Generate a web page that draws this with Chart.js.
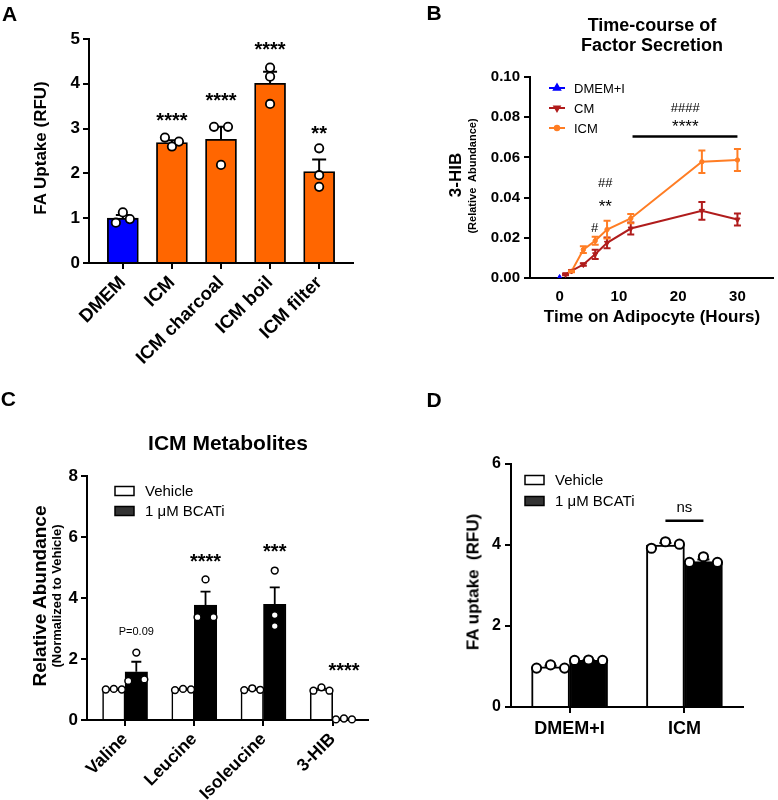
<!DOCTYPE html>
<html>
<head>
<meta charset="utf-8">
<title>FA uptake and 3-HIB figure</title>
<script src="https://cdn.jsdelivr.net/npm/chart.js@4.4.1/dist/chart.umd.min.js"></script>
<style>
  body { margin: 0; background: #fff; }
  #fig { position: relative; width: 778px; height: 800px; font-family: "Liberation Sans", Arial, Helvetica, sans-serif; color: #000; overflow: hidden; }
  #fig canvas { position: absolute; }
  .lbl { position: absolute; white-space: pre; line-height: 1; font-weight: bold; transform: translate(-50%, -50%); }
  .rot { transform: translate(-50%, -50%) rotate(-90deg); }
</style>
</head>
<body>
<div id="fig">
  <canvas id="chartA" width="390" height="380" style="left:0;top:0"></canvas>
  <canvas id="chartB" width="388" height="380" style="left:390px;top:0"></canvas>
  <canvas id="chartC" width="390" height="420" style="left:0;top:380px"></canvas>
  <canvas id="chartD" width="388" height="420" style="left:390px;top:380px"></canvas>

  <div class="lbl" style="left:9.5px;top:12.5px;font-size:21px">A</div>
  <div class="lbl rot" style="left:40px;top:148px;font-size:17px">FA Uptake (RFU)</div>

  <div class="lbl" style="left:434px;top:11.7px;font-size:21px">B</div>
  <div class="lbl" style="left:652px;top:25px;font-size:18px">Time-course of</div>
  <div class="lbl" style="left:652px;top:45px;font-size:18px">Factor Secretion</div>
  <div class="lbl rot" style="left:455px;top:175px;font-size:17px">3-HIB</div>
  <div class="lbl rot" style="left:472px;top:176px;font-size:11px">(Relative  Abundance)</div>
  <div class="lbl" style="left:652px;top:316px;font-size:17px">Time on Adipocyte (Hours)</div>

  <div class="lbl" style="left:8.3px;top:398px;font-size:21px">C</div>
  <div class="lbl" style="left:228px;top:441.7px;font-size:21px">ICM Metabolites</div>
  <div class="lbl rot" style="left:39px;top:596px;font-size:19px">Relative Abundance</div>
  <div class="lbl rot" style="left:56px;top:596px;font-size:13px">(Normalized to Vehicle)</div>

  <div class="lbl" style="left:434px;top:399px;font-size:21px">D</div>
  <div class="lbl rot" style="left:472.5px;top:582px;font-size:17px">FA uptake  (RFU)</div>
</div>

<script>
const FONT = '"Liberation Sans", Arial, Helvetica, sans-serif';

// ---- panel A: FA uptake
const aCats = ['DMEM', 'ICM', 'ICM charcoal', 'ICM boil', 'ICM filter'];
const aMeans = [1.00, 2.69, 2.76, 4.01, 2.04];
const aSem = [0.07, 0.05, 0.28, 0.26, 0.27];
const aReps = [[0.90, 1.13, 0.98], [2.80, 2.60, 2.71], [3.04, 2.19, 3.04], [4.36, 4.16, 3.55], [2.56, 1.96, 1.70]];
const aStars = ['', '****', '****', '****', '**'];
const aStarY = [null, 3.30, 3.75, 4.89, 3.01];
const aYTicks = [0, 1, 2, 3, 4, 5];

// ---- panel B: time course of 3-HIB
const bXTicks = [0, 10, 20, 30];
const bYTicks = [0, 0.02, 0.04, 0.06, 0.08, 0.10];
const bDmemX = [0];
const bDmemY = [0];
const bCmX = [1, 2, 4, 6, 8, 12, 24, 30];
const bCmY = [0.0018, 0.0035, 0.0067, 0.0118, 0.0175, 0.0246, 0.0334, 0.0291];
const bCmSem = [0.0004, 0.0005, 0.0006, 0.0023, 0.0027, 0.0030, 0.0044, 0.0030];
const bIcmX = [2, 4, 6, 8, 12, 24, 30];
const bIcmY = [0.0033, 0.0141, 0.0185, 0.0241, 0.0296, 0.0578, 0.0587];
const bIcmSem = [0.0004, 0.0017, 0.0020, 0.0044, 0.0023, 0.0056, 0.0055];
// significance marks (x, y in data units)
const bNotes = [['#', 5.9, 0.0254], ['##', 7.7, 0.0474], ['**', 7.7, 0.0379], ['####', 21.2, 0.0850], ['****', 21.2, 0.0773]];
const bSigLine = { from: 12.3, to: 30, y: 0.0704 };

// ---- panel C: ICM metabolites
const cCats = ['Valine', 'Leucine', 'Isoleucine', '3-HIB'];
const cVehicle = [1.00, 1.00, 1.00, 1.00];
const cVehicleSem = [0.01, 0.01, 0.02, 0.03];
const cVehicleReps = [[1.00, 1.02, 1.00], [0.98, 1.02, 1.00], [0.98, 1.04, 0.99], [0.96, 1.07, 0.96]];
const cBcat = [1.58, 3.77, 3.79, 0.03];
const cBcatSem = [0.33, 0.44, 0.56, 0.01];
const cBcatReps = [[1.28, 2.21, 1.33], [3.37, 4.61, 3.37], [4.90, 3.44, 3.08], [0.02, 0.05, 0.02]];
const cNotes = ['P=0.09', '****', '***', '****'];
const cNoteY = [2.92, 5.35, 5.70, 1.80];
const cYTicks = [0, 2, 4, 6, 8];

// ---- panel D: FA uptake with BCAT inhibitor
const dCats = ['DMEM+I', 'ICM'];
const dVehicle = [0.99, 4.00];
const dVehicleSem = [0.03, 0.05];
const dVehicleReps = [[0.96, 1.04, 0.96], [3.92, 4.08, 4.02]];
const dBcat = [1.15, 3.59];
const dBcatSem = [0.01, 0.05];
const dBcatReps = [[1.15, 1.16, 1.15], [3.57, 3.71, 3.57]];
const dNsY = 4.6;
const dYTicks = [0, 2, 4, 6];

const BLUE = '#0000ff', ORANGE = '#ff6600';
const CM_RED = '#b01c1c', ICM_ORANGE = '#ff7d24';

Chart.defaults.font.family = FONT;
Chart.defaults.color = '#000';
Chart.defaults.animation = false;
Chart.defaults.events = [];
Chart.defaults.plugins.legend.display = false;
Chart.defaults.plugins.tooltip.enabled = false;

function yAxis(o) {
  return {
    type: 'linear', min: o.min, max: o.max,
    afterBuildTicks: s => { s.ticks = o.ticks.map(v => ({ value: v })); },
    ticks: { font: { size: o.size, weight: 'bold' }, color: '#000', padding: o.pad || 3, callback: o.fmt || (v => v) },
    grid: { drawOnChartArea: false, drawTicks: true, tickLength: 6, color: '#000', lineWidth: 2 },
    border: { color: '#000', width: 2 },
    afterFit: s => { s.width = o.width; }
  };
}

function xAxis(o) {
  return {
    type: 'linear', min: o.min, max: o.max, offset: false,
    afterBuildTicks: s => { s.ticks = o.ticks.map(v => ({ value: v })); },
    ticks: {
      font: { size: o.size, weight: 'bold' }, color: '#000', padding: o.pad,
      minRotation: o.rot || 0, maxRotation: o.rot || 0, autoSkip: false,
      callback: o.labels ? (v => o.labels[v]) : (v => v)
    },
    grid: { offset: false, drawOnChartArea: false, drawTicks: o.drawTicks !== false, tickLength: 6, color: '#000', lineWidth: 2 },
    border: { color: '#000', width: 2 },
    afterFit: s => { s.height = o.height; }
  };
}

// spread replicate dots sideways when they would overlap (GraphPad-like)
function clusterOffsets(pys, thr, step) {
  const n = pys.length, grp = pys.map((_, i) => i);
  const find = i => grp[i] === i ? i : (grp[i] = find(grp[i]));
  for (let i = 0; i < n; i++)
    for (let j = i + 1; j < n; j++)
      if (Math.abs(pys[i] - pys[j]) < thr) grp[find(j)] = find(i);
  const members = {};
  pys.forEach((_, i) => { const g = find(i); (members[g] = members[g] || []).push(i); });
  const off = new Array(n).fill(0);
  Object.values(members).forEach(m => {
    if (m.length === 2) { off[m[0]] = -step; off[m[1]] = step; }
    else m.forEach((idx, k) => { off[idx] = (k - (m.length - 1) / 2) * step; });
  });
  return off;
}

function drawErrors(chart, dsIndex, means, sems, cap, lw) {
  const ctx = chart.ctx, y = chart.scales.y;
  ctx.save();
  ctx.strokeStyle = '#000';
  ctx.lineWidth = lw;
  chart.getDatasetMeta(dsIndex).data.forEach((bar, i) => {
    const y0 = y.getPixelForValue(means[i]);
    const y1 = y.getPixelForValue(means[i] + sems[i]);
    ctx.beginPath();
    ctx.moveTo(bar.x, y0); ctx.lineTo(bar.x, y1);
    ctx.moveTo(bar.x - cap, y1); ctx.lineTo(bar.x + cap, y1);
    ctx.stroke();
  });
  ctx.restore();
}

function drawDots(chart, dsIndex, reps, o) {
  const ctx = chart.ctx, y = chart.scales.y;
  ctx.save();
  ctx.fillStyle = '#fff';
  ctx.strokeStyle = '#000';
  ctx.lineWidth = o.lw;
  chart.getDatasetMeta(dsIndex).data.forEach((bar, i) => {
    const pys = reps[i].map(v => y.getPixelForValue(v));
    const off = clusterOffsets(pys, o.thr, o.step);
    pys.forEach((py, k) => {
      ctx.beginPath();
      ctx.arc(bar.x + off[k], py, o.r, 0, Math.PI * 2);
      ctx.fill();
      ctx.stroke();
    });
  });
  ctx.restore();
}

function note(ctx, text, x, y, size, weight, kind) {
  ctx.save();
  ctx.font = `${weight} ${size}px ${FONT}`;
  ctx.fillStyle = '#000';
  ctx.textAlign = 'center';
  ctx.textBaseline = 'alphabetic';
  const lift = kind === 'star' ? 0.58 : kind === 'low' ? 0.26 : 0.36;
  ctx.fillText(text, x, y + lift * size);
  ctx.restore();
}

function boxLegend(ctx, x, rows) {
  ctx.save();
  rows.forEach(r => {
    ctx.fillStyle = r.fill;
    ctx.strokeStyle = '#000';
    ctx.lineWidth = 1.5;
    ctx.fillRect(x, r.y - 4.5, 19, 9);
    ctx.strokeRect(x, r.y - 4.5, 19, 9);
    ctx.fillStyle = '#000';
    ctx.font = `15px ${FONT}`;
    ctx.textAlign = 'left';
    ctx.textBaseline = 'middle';
    ctx.fillText(r.text, x + 30, r.y + 1);
  });
  ctx.restore();
}

// ---------------- A
new Chart(document.getElementById('chartA'), {
  type: 'bar',
  data: {
    datasets: [{
      data: aMeans.map((v, i) => ({ x: i, y: v })),
      backgroundColor: aMeans.map((_, i) => i === 0 ? BLUE : ORANGE),
      borderColor: '#000', borderWidth: 1.8, barThickness: 31
    }]
  },
  options: {
    responsive: false,
    layout: { padding: { left: 0, top: 39, right: 37, bottom: 0 } },
    scales: {
      x: xAxis({ min: -0.69, max: 4.69, ticks: aCats.map((_, i) => i), labels: aCats, size: 18.5, rot: 45, pad: 3, height: 117 }),
      y: yAxis({ min: 0, max: 5, ticks: aYTicks, size: 17, width: 89 })
    }
  },
  plugins: [{
    id: 'extrasA',
    afterDatasetsDraw(chart) {
      drawErrors(chart, 0, aMeans, aSem, 7, 2);
      drawDots(chart, 0, aReps, { r: 4.2, lw: 1.8, thr: 8.5, step: 7 });
      const bars = chart.getDatasetMeta(0).data;
      aStars.forEach((s, i) => {
        if (s) note(chart.ctx, s, bars[i].x, chart.scales.y.getPixelForValue(aStarY[i]), 20, 'bold', 'star');
      });
    }
  }]
});

// ---------------- B
const bSeries = [
  { label: 'DMEM+I', xs: bDmemX, ys: bDmemY, sem: null, color: BLUE, style: 'triangle', rot: 0, r: 3.5 },
  { label: 'CM', xs: bCmX, ys: bCmY, sem: bCmSem, color: CM_RED, style: 'triangle', rot: 180, r: 3 },
  { label: 'ICM', xs: bIcmX, ys: bIcmY, sem: bIcmSem, color: ICM_ORANGE, style: 'circle', rot: 0, r: 2.2 }
];

new Chart(document.getElementById('chartB'), {
  type: 'scatter',
  data: {
    datasets: bSeries.map(s => ({
      label: s.label,
      data: s.xs.map((x, i) => ({ x, y: s.ys[i] })),
      showLine: true,
      borderColor: s.color, backgroundColor: s.color,
      borderWidth: 2, pointStyle: s.style, pointRotation: s.rot,
      pointRadius: s.r, pointBorderWidth: 1
    }))
  },
  options: {
    responsive: false,
    layout: { padding: { left: 0, top: 77, right: 4, bottom: 0 } },
    scales: {
      x: xAxis({ min: -5, max: 36, ticks: bXTicks, size: 15, pad: 10, height: 102, drawTicks: false }),
      y: yAxis({ min: 0, max: 0.10, ticks: bYTicks, size: 15, width: 140, pad: 4, fmt: v => v.toFixed(2) })
    }
  },
  plugins: [{
    id: 'extrasB',
    afterDatasetsDraw(chart) {
      const ctx = chart.ctx, xs = chart.scales.x, ys = chart.scales.y;
      ctx.save();
      ctx.lineWidth = 2;
      bSeries.forEach(s => {
        if (!s.sem) return;
        ctx.strokeStyle = s.color;
        s.xs.forEach((x, i) => {
          const px = xs.getPixelForValue(x);
          const lo = ys.getPixelForValue(s.ys[i] - s.sem[i]);
          const hi = ys.getPixelForValue(s.ys[i] + s.sem[i]);
          ctx.beginPath();
          ctx.moveTo(px, lo); ctx.lineTo(px, hi);
          ctx.moveTo(px - 3.5, lo); ctx.lineTo(px + 3.5, lo);
          ctx.moveTo(px - 3.5, hi); ctx.lineTo(px + 3.5, hi);
          ctx.stroke();
        });
      });
      // significance bar and marks
      ctx.strokeStyle = '#000';
      ctx.lineWidth = 2.5;
      ctx.beginPath();
      ctx.moveTo(xs.getPixelForValue(bSigLine.from), ys.getPixelForValue(bSigLine.y));
      ctx.lineTo(xs.getPixelForValue(bSigLine.to), ys.getPixelForValue(bSigLine.y));
      ctx.stroke();
      ctx.restore();
      bNotes.forEach(([t, x, y]) => {
        const star = t[0] === '*';
        note(ctx, t, xs.getPixelForValue(x), ys.getPixelForValue(y), star ? 17 : 13, 'normal', star ? 'star' : 'caps');
      });
      // legend: line + marker + label
      ctx.save();
      bSeries.forEach((s, i) => {
        const ly = 88 + i * 20;
        ctx.strokeStyle = s.color;
        ctx.fillStyle = s.color;
        ctx.lineWidth = 2;
        ctx.beginPath();
        ctx.moveTo(159, ly); ctx.lineTo(175, ly);
        ctx.stroke();
        Chart.helpers.drawPoint(ctx, { pointStyle: s.style, rotation: s.rot, radius: s.r, borderWidth: 1 }, 167, ly);
        ctx.fillStyle = '#000';
        ctx.font = `13px ${FONT}`;
        ctx.textAlign = 'left';
        ctx.textBaseline = 'middle';
        ctx.fillText(s.label, 184, ly + 1);
      });
      ctx.restore();
    }
  }]
});

// ---------------- C
new Chart(document.getElementById('chartC'), {
  type: 'bar',
  data: {
    datasets: [
      { label: 'Vehicle', data: cVehicle.map((v, i) => ({ x: i, y: v })), backgroundColor: '#fff', borderColor: '#000', borderWidth: 1.6, barThickness: 22.5 },
      { label: '1 μM BCATi', data: cBcat.map((v, i) => ({ x: i, y: v })), backgroundColor: '#000', borderColor: '#000', borderWidth: 1.6, barThickness: 22.5 }
    ]
  },
  options: {
    responsive: false,
    layout: { padding: { left: 0, top: 96, right: 22, bottom: 0 } },
    scales: {
      x: xAxis({ min: -0.55, max: 3.51, ticks: cCats.map((_, i) => i), labels: cCats, size: 17.5, rot: 45, pad: 3, height: 80 }),
      y: yAxis({ min: 0, max: 8, ticks: cYTicks, size: 17, width: 87 })
    }
  },
  plugins: [{
    id: 'extrasC',
    afterDatasetsDraw(chart) {
      drawErrors(chart, 0, cVehicle, cVehicleSem, 5, 1.8);
      drawErrors(chart, 1, cBcat, cBcatSem, 5, 1.8);
      drawDots(chart, 0, cVehicleReps, { r: 3.4, lw: 1.5, thr: 7, step: 8 });
      drawDots(chart, 1, cBcatReps, { r: 3.4, lw: 1.5, thr: 7, step: 8 });
      const bars = chart.getDatasetMeta(1).data;
      cNotes.forEach((t, i) => {
        const py = chart.scales.y.getPixelForValue(cNoteY[i]);
        if (t[0] === '*') note(chart.ctx, t, bars[i].x, py, 20, 'bold', 'star');
        else note(chart.ctx, t, bars[i].x, py, 11, 'normal', 'caps');
      });
      boxLegend(chart.ctx, 115, [{ y: 111, fill: '#fff', text: 'Vehicle' }, { y: 131, fill: '#333', text: '1 μM BCATi' }]);
    }
  }]
});

// ---------------- D
new Chart(document.getElementById('chartD'), {
  type: 'bar',
  data: {
    datasets: [
      { label: 'Vehicle', data: dVehicle.map((v, i) => ({ x: i, y: v })), backgroundColor: '#fff', borderColor: '#000', borderWidth: 2, barThickness: 38 },
      { label: '1 μM BCATi', data: dBcat.map((v, i) => ({ x: i, y: v })), backgroundColor: '#000', borderColor: '#000', borderWidth: 2, barThickness: 38 }
    ]
  },
  options: {
    responsive: false,
    layout: { padding: { left: 0, top: 84, right: 35, bottom: 0 } },
    scales: {
      x: xAxis({ min: -0.51, max: 1.51, ticks: dCats.map((_, i) => i), labels: dCats, size: 18, pad: 5, height: 93 }),
      y: yAxis({ min: 0, max: 6, ticks: dYTicks, size: 16, width: 121, pad: 4 })
    }
  },
  plugins: [{
    id: 'extrasD',
    afterDatasetsDraw(chart) {
      const ctx = chart.ctx, ys = chart.scales.y;
      drawErrors(chart, 0, dVehicle, dVehicleSem, 6, 2);
      drawErrors(chart, 1, dBcat, dBcatSem, 6, 2);
      drawDots(chart, 0, dVehicleReps, { r: 4.6, lw: 2, thr: 10, step: 14 });
      drawDots(chart, 1, dBcatReps, { r: 4.6, lw: 2, thr: 10, step: 14 });
      // "ns" between the two ICM bars
      const x0 = chart.getDatasetMeta(0).data[1].x, x1 = chart.getDatasetMeta(1).data[1].x;
      const ly = ys.getPixelForValue(dNsY);
      ctx.save();
      ctx.strokeStyle = '#000';
      ctx.lineWidth = 2.5;
      ctx.beginPath();
      ctx.moveTo(x0, ly); ctx.lineTo(x1, ly);
      ctx.stroke();
      ctx.restore();
      note(ctx, 'ns', (x0 + x1) / 2, ly - 13, 15, 'normal', 'low');
      boxLegend(ctx, 135, [{ y: 100, fill: '#fff', text: 'Vehicle' }, { y: 121, fill: '#333', text: '1 μM BCATi' }]);
    }
  }]
});
</script>
</body>
</html>
